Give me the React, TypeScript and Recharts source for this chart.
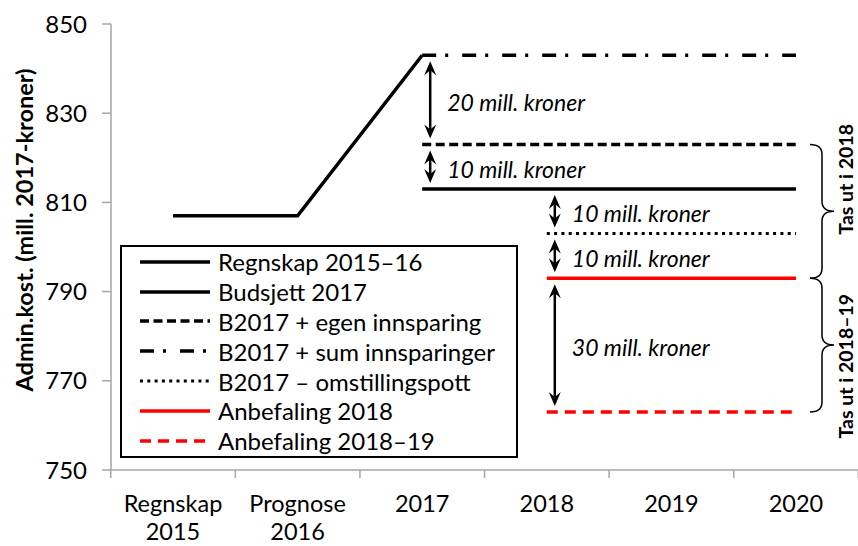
import React from 'react';
import { LineChart, Line, XAxis, YAxis, Legend, ReferenceLine } from 'recharts';

const categories = ['Regnskap 2015', 'Prognose 2016', '2017', '2018', '2019', '2020'];
const regnskap = [807, 807, 843, null, null, null];
const budsjett = [null, null, 813, 813, 813, 813];
const egenInnsparing = [null, null, 823, 823, 823, 823];
const sumInnsparinger = [null, null, 843, 843, 843, 843];
const omstillingspott = [null, null, null, 803, 803, 803];
const anbefaling2018 = [null, null, null, 793, 793, 793];
const anbefaling201819 = [null, null, null, 763, 763, 763];
const yTicks = [750, 770, 790, 810, 830, 850];

// difference arrows: at category, from value, to value, text
const gapArrows = [
  { x: '2017', from: 843, to: 823, text: '20 mill. kroner' },
  { x: '2017', from: 823, to: 813, text: '10 mill. kroner' },
  { x: '2018', from: 813, to: 803, text: '10 mill. kroner' },
  { x: '2018', from: 803, to: 793, text: '10 mill. kroner' },
  { x: '2018', from: 793, to: 763, text: '30 mill. kroner' },
];
const braces = [
  { x: '2020', from: 823, to: 793, text: 'Tas ut i 2018' },
  { x: '2020', from: 793, to: 763, text: 'Tas ut i 2018–19' },
];
const braceTextShift = [-32, 21];

const FONT = 'Lato, "Open Sans", sans-serif';
const AXIS = '#a6a6a6';

const series = [
  { key: 'regnskap', name: 'Regnskap 2015–16', values: regnskap, color: '#000', width: 3.5, dash: undefined },
  { key: 'budsjett', name: 'Budsjett 2017', values: budsjett, color: '#000', width: 3.5, dash: undefined },
  { key: 'egen', name: 'B2017 + egen innsparing', values: egenInnsparing, color: '#000', width: 3.5, dash: '9 4.5' },
  { key: 'sum', name: 'B2017 + sum innsparinger', values: sumInnsparinger, color: '#000', width: 3.5, dash: '14 9 3 14' },
  { key: 'omst', name: 'B2017 – omstillingspott', values: omstillingspott, color: '#000', width: 3, dash: '3 4.3' },
  { key: 'anb18', name: 'Anbefaling 2018', values: anbefaling2018, color: '#ff0000', width: 3.5, dash: undefined },
  { key: 'anb1819', name: 'Anbefaling 2018–19', values: anbefaling201819, color: '#ff0000', width: 3.5, dash: '11 7' },
];

const data = categories.map((name, i) => {
  const row: any = { name };
  series.forEach((s) => { row[s.key] = s.values[i]; });
  return row;
});

const XTick = (props: any) => {
  const { x, y, payload, index, width } = props;
  const half = payload.offset || (width ? width / categories.length / 2 : 62.25);
  const lines = String(payload.value).split(' ');
  return (
    <g>
      <line x1={x - half} x2={x - half} y1={y} y2={y + 8} stroke={AXIS} strokeWidth={1.5} />
      {index === categories.length - 1 && (
        <line x1={x + half} x2={x + half} y1={y} y2={y + 8} stroke={AXIS} strokeWidth={1.5} />
      )}
      {lines.map((t, i) => (
        <text key={i} x={x} y={y + 33 + i * 28} textAnchor="middle" dominantBaseline="central"
          fontFamily={FONT} fontSize={23.5} fill="#000">{t}</text>
      ))}
    </g>
  );
};

const YTitle = (props: any) => {
  const vb = props.viewBox || { x: 0, y: 24, width: 111, height: 447 };
  const cx = vb.x + 24;
  const cy = vb.y + vb.height / 2 - 17;
  return (
    <text x={cx} y={cy} transform={`rotate(-90 ${cx} ${cy})`} textAnchor="middle" dominantBaseline="central"
      fontFamily={FONT} fontWeight={700} fontSize={23.5} fill="#000">
      Admin.kost. (mill. 2017-kroner)
    </text>
  );
};

const arrowHead = (x: number, y: number, dir: number) =>
  `M${x},${y} L${x - 6},${y + dir * 14} L${x},${y + dir * 9} L${x + 6},${y + dir * 14} Z`;

const makeGapArrow = (text: string) => (p: any) => {
  const x = p.x1 + 8;
  const top = Math.min(p.y1, p.y2) + 6;
  const bot = Math.max(p.y1, p.y2) - 6;
  return (
    <g>
      <line x1={x} x2={x} y1={top + 6} y2={bot - 6} stroke="#000" strokeWidth={2.5} />
      <path d={arrowHead(x, top, 1)} fill="#000" />
      <path d={arrowHead(x, bot, -1)} fill="#000" />
      <text x={p.x1 + 25} y={(top + bot) / 2 + 2} dominantBaseline="central" fontFamily={FONT}
        fontStyle="italic" fontSize={23} fill="#000">{text}</text>
    </g>
  );
};

const makeBrace = (text: string, shift: number) => (p: any) => {
  const top = Math.min(p.y1, p.y2);
  const bot = Math.max(p.y1, p.y2);
  const mid = (top + bot) / 2;
  const xs = p.x1 + 14;
  const xv = p.x1 + 26;
  const xp = p.x1 + 38;
  const r = 10;
  const d = `M${xs},${top} Q${xv},${top} ${xv},${top + r} L${xv},${mid - r} Q${xv},${mid} ${xp},${mid}` +
    ` Q${xv},${mid} ${xv},${mid + r} L${xv},${bot - r} Q${xv},${bot} ${xs},${bot}`;
  const tx = p.x1 + 50;
  const ty = mid + shift;
  return (
    <g>
      <path d={d} fill="none" stroke="#000" strokeWidth={1.5} />
      <text x={tx} y={ty} transform={`rotate(-90 ${tx} ${ty})`} textAnchor="middle" dominantBaseline="central"
        fontFamily={FONT} fontWeight={700} fontSize={19.5} fill="#000">{text}</text>
    </g>
  );
};

const LegendBox = () => (
  <div style={{
    boxSizing: 'border-box', width: 398, height: 213, border: '2px solid #000', background: '#fff',
    fontFamily: FONT, fontSize: 24, color: '#000',
  }}>
    {series.map((s) => (
      <div key={s.key} style={{ display: 'flex', alignItems: 'center', height: 29.8, whiteSpace: 'nowrap' }}>
        <svg width={96} height={28} style={{ flex: 'none' }}>
          <line x1={18} x2={88} y1={14} y2={14} stroke={s.color} strokeWidth={s.width} strokeDasharray={s.dash} />
        </svg>
        <span>{s.name}</span>
      </div>
    ))}
  </div>
);

const App: React.FC = () => {
  return (
    <div style={{ position: 'absolute', left: 0, top: 0, background: '#fff' }}>
      <LineChart width={858} height={546} data={data} margin={{ top: 24, right: 0, bottom: 0, left: 0 }}>
        <XAxis dataKey="name" height={76} tickSize={0} tickMargin={0} tickLine={false}
          padding={{ left: 62, right: 62 }}
          axisLine={{ stroke: AXIS, strokeWidth: 1.5 }} tick={<XTick />} interval={0} />
        <YAxis width={111} domain={[750, 850]} ticks={yTicks} tickSize={9} tickMargin={15}
          axisLine={{ stroke: AXIS, strokeWidth: 1.5 }} tickLine={{ stroke: AXIS, strokeWidth: 1.5 }}
          tick={{ fill: '#000', fontSize: 24, fontFamily: FONT }} label={<YTitle />} />
        {series.map((s) => (
          <Line key={s.key} dataKey={s.key} name={s.name} stroke={s.color} strokeWidth={s.width}
            strokeDasharray={s.dash} dot={false} activeDot={false} connectNulls={false}
            isAnimationActive={false} />
        ))}
        {gapArrows.map((a, i) => (
          <ReferenceLine key={`a${i}`} segment={[{ x: a.x, y: a.from }, { x: a.x, y: a.to }]}
            ifOverflow="visible" shape={makeGapArrow(a.text)} />
        ))}
        {braces.map((b, i) => (
          <ReferenceLine key={`b${i}`} segment={[{ x: b.x, y: b.from }, { x: b.x, y: b.to }]}
            ifOverflow="visible" shape={makeBrace(b.text, braceTextShift[i])} />
        ))}
        <Legend layout="vertical" verticalAlign="middle" align="center" content={<LegendBox />}
          wrapperStyle={{ left: 120, top: 245, width: 398, height: 213 }} />
      </LineChart>
    </div>
  );
};

export default App;
